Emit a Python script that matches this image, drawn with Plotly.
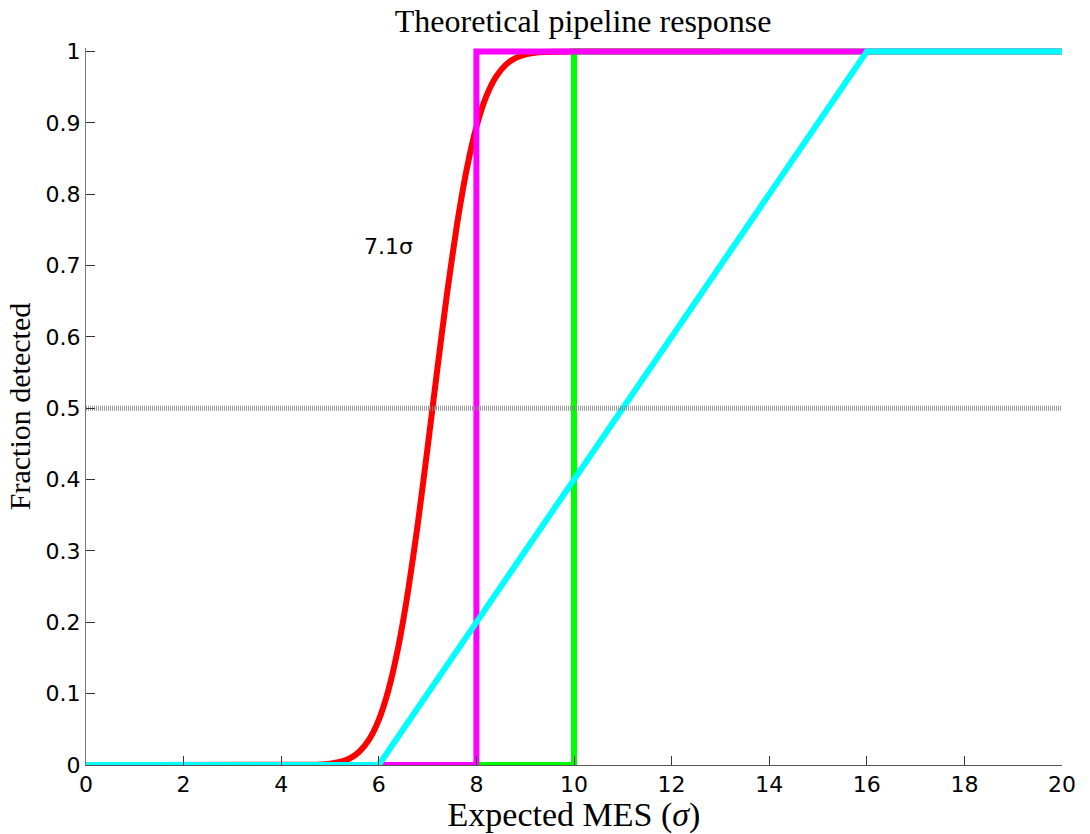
import plotly.graph_objects as go

# Detection-efficiency models vs. expected multiple event statistic (MES)
mes_smooth = [1.3, 4.6, 4.8, 5.0, 5.2, 5.4, 5.6, 5.8, 6.0, 6.2, 6.4, 6.6, 6.8,
              7.0, 7.2, 7.4, 7.6, 7.8, 8.0, 8.2, 8.4, 8.6, 8.8, 9.0, 9.2,
              9.4, 9.6, 10.0, 13.0]
frac_smooth = [0.0, 0.0003, 0.0007, 0.0018, 0.0042, 0.0091, 0.0186, 0.0355,
               0.0633, 0.1056, 0.1655, 0.2437, 0.3384, 0.4448, 0.5552,
               0.6616, 0.7563, 0.8345, 0.8944, 0.9367, 0.9645, 0.9814,
               0.9909, 0.9958, 0.9982, 0.9993, 0.9997, 1.0, 1.0]

mes_step10 = [0, 10, 10, 20]
frac_step10 = [0, 0, 1, 1]

mes_step8 = [0, 8, 8, 20]
frac_step8 = [0, 0, 1, 1]

mes_ramp = [0, 6, 16, 20]
frac_ramp = [0, 0, 1, 1]

half_x = [0, 20]
half_y = [0.5, 0.5]

x_ticks = list(range(0, 21, 2))
y_ticks = [0, 0.1, 0.2, 0.3, 0.4, 0.5, 0.6, 0.7, 0.8, 0.9, 1]
y_tick_text = ["0", "0.1", "0.2", "0.3", "0.4", "0.5", "0.6", "0.7", "0.8", "0.9", "1"]

label_x, label_y, label_text = 5.65, 0.727, "7.1σ"

LW = 6
serif = "Liberation Serif, Times New Roman, serif"
sans = "DejaVu Sans, Liberation Sans, Arial, sans-serif"
TICK_SIZE = 22

fig = go.Figure()
fig.add_trace(go.Scatter(x=mes_smooth, y=frac_smooth, mode="lines",
                         line=dict(color="#ff0000", width=LW, shape="spline", smoothing=0.6)))
fig.add_trace(go.Scatter(x=mes_step10, y=frac_step10, mode="lines",
                         line=dict(color="#00ff00", width=LW)))
fig.add_trace(go.Scatter(x=mes_step8, y=frac_step8, mode="lines",
                         line=dict(color="#ff00ff", width=LW)))
fig.add_trace(go.Scatter(x=mes_ramp, y=frac_ramp, mode="lines",
                         line=dict(color="#00ffff", width=LW)))
fig.add_trace(go.Scatter(x=half_x, y=half_y, mode="lines",
                         line=dict(color="rgba(130,130,130,0.8)", width=5, dash="1px,1px")))

fig.add_annotation(x=label_x, y=label_y, text=label_text, showarrow=False,
                   xanchor="left", yanchor="middle",
                   font=dict(family=sans, size=TICK_SIZE, color="black"))

fig.update_layout(
    width=1090, height=834,
    margin=dict(l=86, r=28, t=48, b=69),
    paper_bgcolor="white", plot_bgcolor="white",
    showlegend=False,
    title=dict(text="Theoretical pipeline response", x=0.535, xanchor="center",
               y=1 - 21 / 834, yanchor="middle",
               font=dict(family=serif, size=32, color="black")),
    font=dict(family=sans, size=TICK_SIZE, color="black"),
)
fig.update_xaxes(range=[0, 20], tickvals=x_ticks, ticks="inside", ticklen=9,
                 tickcolor="#333", showline=True, linecolor="#555", linewidth=1,
                 showgrid=False, zeroline=False, automargin=False,
                 tickfont=dict(family=sans, size=TICK_SIZE, color="black"),
                 title=dict(text="Expected MES (<i>σ</i>)", standoff=10,
                            font=dict(family=serif, size=34, color="black")))
fig.update_yaxes(range=[0, 1.005], tickvals=y_ticks, ticktext=y_tick_text,
                 ticks="inside", ticklen=9, tickcolor="#333",
                 showline=True, linecolor="#777", linewidth=1,
                 showgrid=False, zeroline=False, automargin=False,
                 tickfont=dict(family=sans, size=TICK_SIZE, color="black"),
                 title=dict(text="Fraction detected", standoff=6,
                            font=dict(family=serif, size=30, color="black")))

fig.write_html("out.html")
